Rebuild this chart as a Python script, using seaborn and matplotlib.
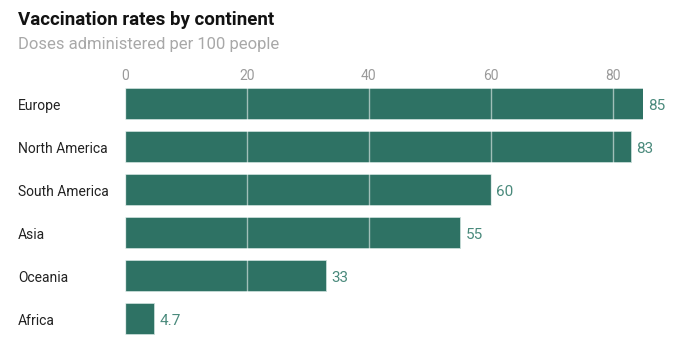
import matplotlib
matplotlib.use("Agg")
import matplotlib.pyplot as plt
import seaborn as sns
import pandas as pd

continents = ["Europe", "North America", "South America", "Asia", "Oceania", "Africa"]
doses = [85, 83, 60, 55, 33, 4.7]
value_labels = ["85", "83", "60", "55", "33", "4.7"]
ticks = [0, 20, 40, 60, 80]

sns.set_theme(style="white")
plt.rcParams['font.family'] = ['Roboto', 'DejaVu Sans']

df = pd.DataFrame({"continent": continents, "doses": doses})

fig = plt.figure(figsize=(6.8, 3.48), dpi=100)
ax = fig.add_axes([125/680, 1 - 340/348, (643-125)/680, (340-82)/348])

bar_color = "#2e7264"
sns.barplot(data=df, y="continent", x="doses", color=bar_color, width=0.72,
            saturation=1, ax=ax, edgecolor="#c8ddd8", linewidth=0.6, orient="h")

ax.set_xlim(0, 85)
ax.set_ylim(5.5, -0.5)
for t in ticks:
    ax.axvline(t, color="white", alpha=0.55, lw=1, zorder=5)

ax.xaxis.tick_top()
ax.set_xticks(ticks)
ax.set_xticklabels([str(t) for t in ticks], color="#9a9a9a", fontsize=10)
ax.tick_params(axis="x", length=0, pad=-0.5)
ax.set_yticks([])
ax.set_xlabel("")
ax.set_ylabel("")
for s in ax.spines.values():
    s.set_visible(False)

for i, (c, v, lab) in enumerate(zip(continents, doses, value_labels)):
    ax.annotate(c, (0, i), xytext=(-(125-18)*0.72, -1.5), textcoords="offset points",
                ha="left", va="center", fontsize=10, color="#222222")
    ax.annotate(lab, (v, i), xytext=(4, -2), textcoords="offset points",
                ha="left", va="center", fontsize=11, color="#4a8a7c")

fig.text(18/680, 1 - 20/348, "Vaccination rates by continent", fontsize=13.5, fontweight="bold",
         color="#121212", ha="left", va="center")
fig.text(18/680, 1 - 45/348, "Doses administered per 100 people", fontsize=12,
         color="#a8a8a8", ha="left", va="center")

fig.savefig("out.png", dpi=100)
